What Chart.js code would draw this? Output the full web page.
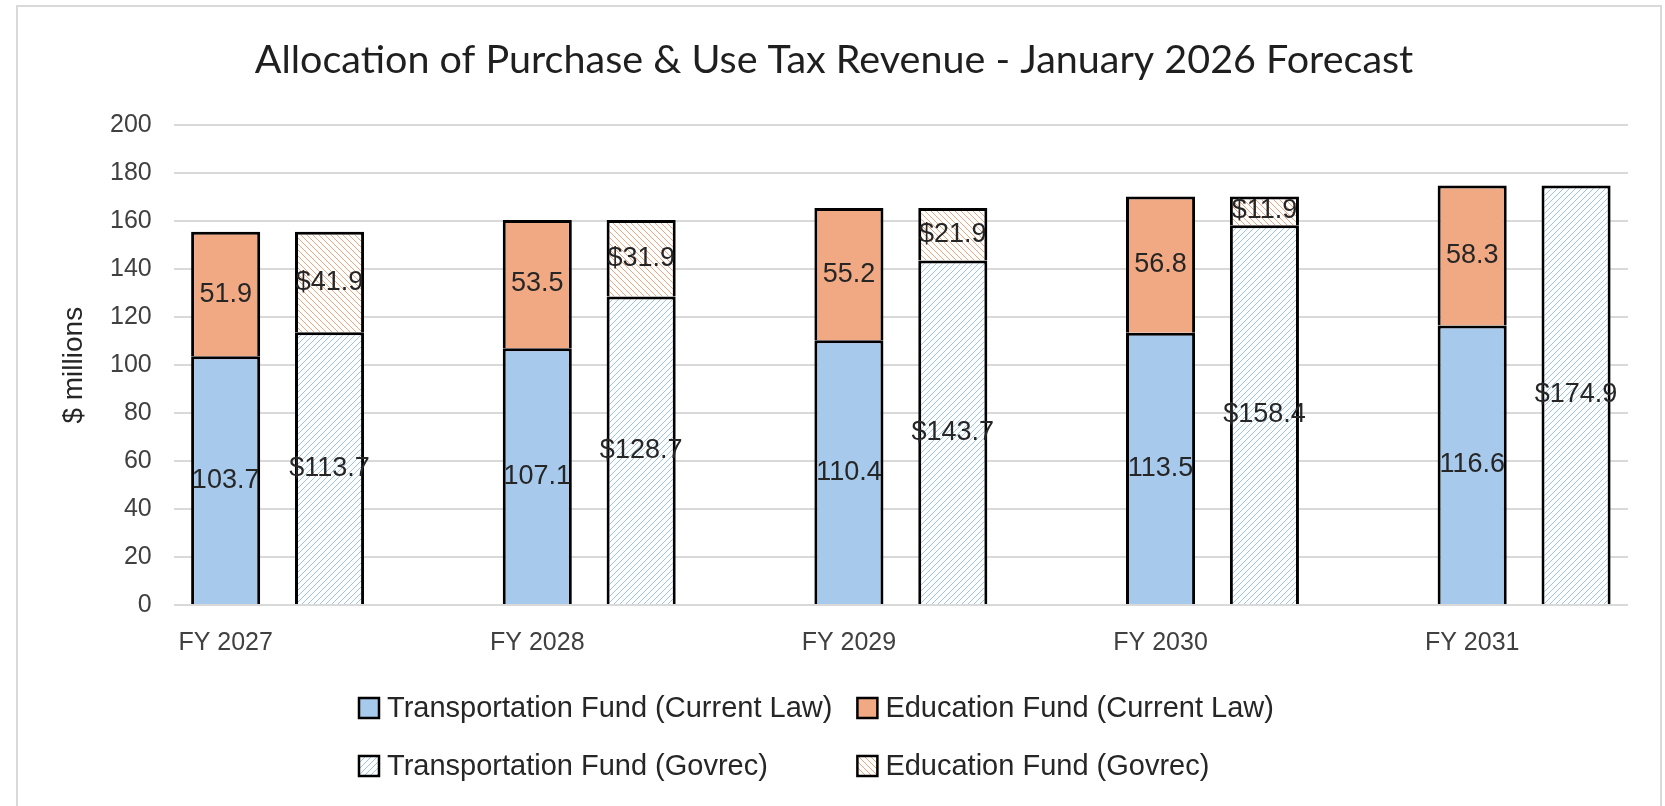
<!DOCTYPE html>
<html>
<head>
    <title>Allocation of Purchase &amp; Use Tax Revenue</title>
    <meta http-equiv="content-type" content="text/html; charset=UTF-8"/>
    <script src="https://cdn.jsdelivr.net/npm/chart.js@4.4.1/dist/chart.umd.min.js"></script>
    <style>
        html, body {
            margin: 0;
            padding: 0;
            background: #ffffff;
        }
        #chart {
            display: block;
        }
    </style>
</head>
<body>
<canvas id="chart" width="1665" height="806"></canvas>
<script>
    var years = ['FY 2027', 'FY 2028', 'FY 2029', 'FY 2030', 'FY 2031'];
    var transportCurrent = [103.7, 107.1, 110.4, 113.5, 116.6];
    var educationCurrent = [51.9, 53.5, 55.2, 56.8, 58.3];
    var transportGovrec = [113.7, 128.7, 143.7, 158.4, 174.9];
    var educationGovrec = [41.9, 31.9, 21.9, 11.9, null];
    var yTicks = [0, 20, 40, 60, 80, 100, 120, 140, 160, 180, 200];

    // three slots per year: current law bar, govrec bar, gap (no gap after the last year)
    var slots = [];
    years.forEach(function (y) { slots.push(y, '', ''); });
    slots.pop();

    function spread(values, offset) {
        var out = slots.map(function () { return null; });
        values.forEach(function (v, i) { out[i * 3 + offset] = v; });
        return out;
    }

    function hatch(color, upward) {
        var c = document.createElement('canvas');
        c.width = 6;
        c.height = 6;
        var g = c.getContext('2d');
        g.fillStyle = '#ffffff';
        g.fillRect(0, 0, 6, 6);
        g.strokeStyle = color;
        g.lineWidth = 1;
        g.beginPath();
        if (upward) {
            g.moveTo(-1, 7); g.lineTo(7, -1);
            g.moveTo(-1, 1); g.lineTo(1, -1);
            g.moveTo(5, 7); g.lineTo(7, 5);
        } else {
            g.moveTo(-1, -1); g.lineTo(7, 7);
            g.moveTo(-1, 5); g.lineTo(1, 7);
            g.moveTo(5, -1); g.lineTo(7, 1);
        }
        g.stroke();
        return g.createPattern(c, 'repeat');
    }

    var blue = '#a6c9ec';
    var orange = '#f1a983';
    var blueHatch = hatch('#9cc3ec', true);
    var orangeHatch = hatch('#f2a57c', false);
    var sansFont = "'Liberation Sans', Arial, sans-serif";

    // light grey frame around the whole chart, like the Excel chart area
    var framePlugin = {
        id: 'frame',
        beforeDraw: function (chart) {
            var ctx = chart.ctx;
            ctx.save();
            ctx.strokeStyle = '#d9d9d9';
            ctx.lineWidth = 2;
            ctx.strokeRect(17, 6, 1644, 850);
            ctx.restore();
        }
    };

    // value labels centred inside each segment
    var valueLabels = {
        id: 'valueLabels',
        afterDatasetsDraw: function (chart) {
            var ctx = chart.ctx;
            ctx.save();
            ctx.font = '27px ' + sansFont;
            ctx.fillStyle = '#262626';
            ctx.textAlign = 'center';
            ctx.textBaseline = 'middle';
            chart.data.datasets.forEach(function (ds, di) {
                var meta = chart.getDatasetMeta(di);
                meta.data.forEach(function (bar, i) {
                    var v = ds.data[i];
                    if (v === null || v === undefined) return;
                    ctx.fillText((ds.labelPrefix || '') + v.toFixed(1), bar.x, (bar.y + bar.base) / 2);
                });
            });
            ctx.restore();
        }
    };

    // two-column legend below the plot
    var gridLegend = {
        id: 'gridLegend',
        afterDraw: function (chart, args, opts) {
            var ctx = chart.ctx;
            var ds = chart.data.datasets;
            ctx.save();
            ctx.font = opts.fontSize + 'px ' + sansFont;
            ctx.textBaseline = 'middle';
            ctx.textAlign = 'left';
            var col1 = Math.max(ctx.measureText(ds[0].label).width, ctx.measureText(ds[2].label).width);
            var colX = [opts.left, opts.left + opts.box + opts.gap + col1 + opts.colGap];
            ds.forEach(function (d, i) {
                var row = i < 2 ? 0 : 1;
                var col = i % 2;
                var x = colX[col];
                var y = opts.rows[row];
                ctx.fillStyle = d.backgroundColor;
                ctx.fillRect(x, y - opts.box / 2, opts.box, opts.box);
                ctx.strokeStyle = '#000000';
                ctx.lineWidth = 2.5;
                ctx.strokeRect(x, y - opts.box / 2, opts.box, opts.box);
                ctx.fillStyle = '#262626';
                ctx.fillText(d.label, x + opts.box + opts.gap, y + 1);
            });
            ctx.restore();
        }
    };

    var context = document.getElementById('chart').getContext('2d');
    var barChart = new Chart(context, {
        type: 'bar',
        data: {
            labels: slots,
            datasets: [
                {
                    label: 'Transportation Fund (Current Law)',
                    data: spread(transportCurrent, 0),
                    backgroundColor: blue
                },
                {
                    label: 'Education Fund (Current Law)',
                    data: spread(educationCurrent, 0),
                    backgroundColor: orange
                },
                {
                    label: 'Transportation Fund (Govrec)',
                    data: spread(transportGovrec, 1),
                    backgroundColor: blueHatch,
                    labelPrefix: '$'
                },
                {
                    label: 'Education Fund (Govrec)',
                    data: spread(educationGovrec, 1),
                    backgroundColor: orangeHatch,
                    labelPrefix: '$'
                }
            ]
        },
        options: {
            responsive: false,
            animation: false,
            datasets: {
                bar: {
                    borderColor: '#000000',
                    borderWidth: 3,
                    categoryPercentage: 1,
                    barPercentage: 0.665
                }
            },
            layout: {
                padding: { left: 40, right: 37, top: 0, bottom: 133 }
            },
            plugins: {
                legend: { display: false },
                tooltip: { enabled: false },
                title: {
                    display: true,
                    text: 'Allocation of Purchase & Use Tax Revenue - January 2026 Forecast',
                    color: '#1f1f1f',
                    font: { family: "Lato, 'Noto Sans', sans-serif", size: 39.5, weight: 'normal' },
                    padding: { top: 37, bottom: 41 }
                },
                gridLegend: {
                    left: 359,
                    rows: [708, 766],
                    box: 20,
                    gap: 8,
                    colGap: 25,
                    fontSize: 29
                }
            },
            scales: {
                x: {
                    stacked: true,
                    grid: { display: false },
                    border: { display: false },
                    ticks: {
                        autoSkip: false,
                        maxRotation: 0,
                        padding: 15,
                        color: '#404040',
                        font: { family: sansFont, size: 25 }
                    }
                },
                y: {
                    stacked: true,
                    min: yTicks[0],
                    max: yTicks[yTicks.length - 1],
                    afterBuildTicks: function (scale) {
                        scale.ticks = yTicks.map(function (v) { return { value: v }; });
                    },
                    grid: { color: '#d9d9d9', lineWidth: 2, drawTicks: false },
                    border: { display: false },
                    ticks: {
                        padding: 22,
                        color: '#404040',
                        font: { family: sansFont, size: 25 }
                    },
                    title: {
                        display: true,
                        text: '$ millions',
                        color: '#262626',
                        font: { family: sansFont, size: 28, lineHeight: 1 },
                        padding: { top: 20, bottom: 0 }
                    }
                }
            }
        },
        plugins: [framePlugin, valueLabels, gridLegend]
    });
</script>
</body>
</html>
